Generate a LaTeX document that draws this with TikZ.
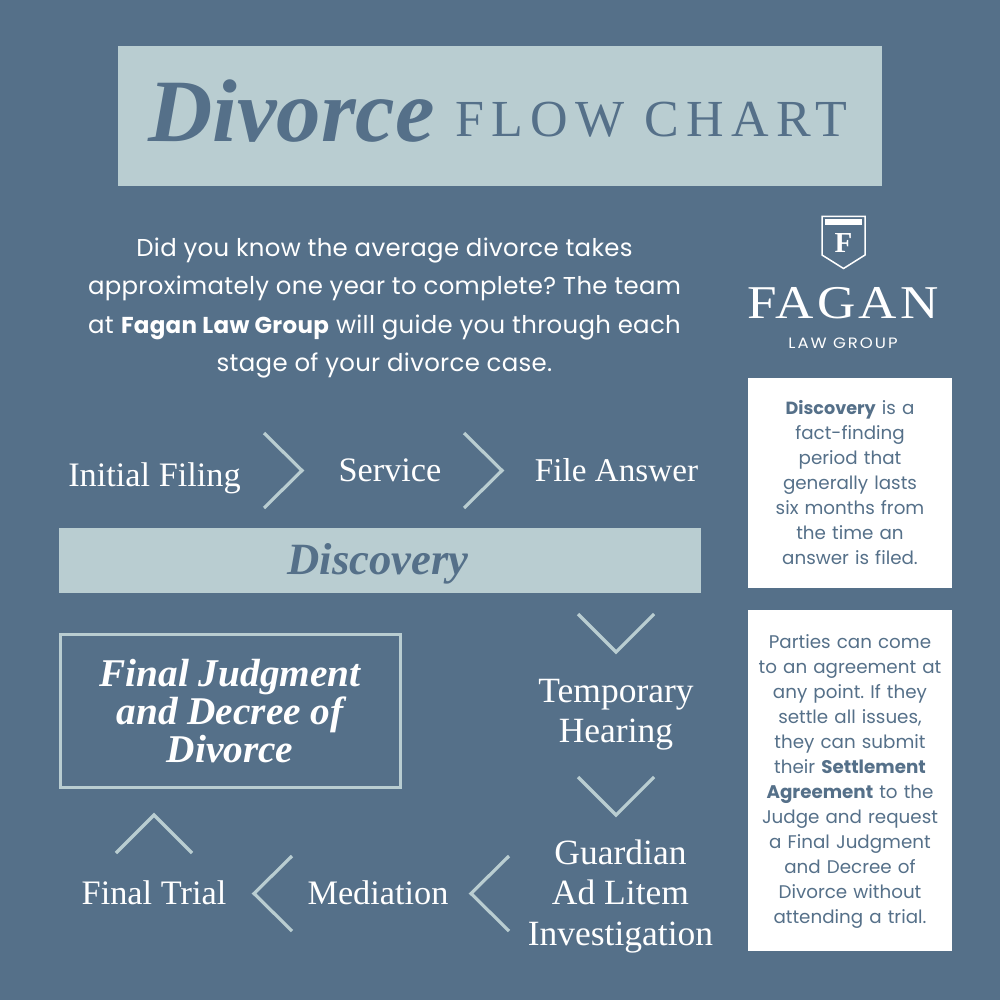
\documentclass[tikz,border=0pt]{standalone}
\usepackage{fontspec}
\setmainfont{Liberation Serif}
\newfontfamily\bodyfont{Poppins}[LetterSpace=1.3]
\newfontfamily\sidefont{Poppins}
\newfontfamily\cursfont{Liberation Serif}
\newfontfamily\flowfont{Liberation Serif}[LetterSpace=14]
\newfontfamily\faganfont{Liberation Serif}[LetterSpace=6]
\newfontfamily\lawfont{Poppins}[LetterSpace=12]
\definecolor{bgblue}{HTML}{557089}
\definecolor{palebar}{HTML}{B9CDD1}
\newcommand{\fs}[2]{\fontsize{#1pt}{#2pt}\selectfont}
\tikzset{
  x=1pt,y=-1pt,
  chev/.style={draw=palebar,line width=3.2pt,line cap=butt,line join=miter},
  steplabel/.style={text=white,align=center,inner sep=0pt,font=\rmfamily\fs{34.3}{40.5}},
  widelabel/.style={steplabel,font=\rmfamily\fs{35.5}{40.5}},
  intro/.style={text=white,align=center,inner sep=0pt,font=\bodyfont\fs{24.4}{38.3}},
  sidebox/.style={inner sep=0pt,align=center,text=bgblue,font=\sidefont\fs{18.3}{25},text width=190pt},
}
\begin{document}
\frenchspacing
\begin{tikzpicture}
\useasboundingbox (0,0) rectangle (1000,1000);
\fill[bgblue] (0,0) rectangle (1000,1000);
% title
\fill[palebar] (118,46) rectangle (882,186);
\node[inner sep=0pt,text=bgblue,font=\cursfont\bfseries\itshape\fs{89}{89},anchor=base west] (divorce) at (148,142) {Divorce};
\node[text=bgblue,inner sep=0pt,font=\flowfont\fs{52}{52},anchor=base west] (flow) at (455,137) {FLOW CHART};
% intro
\node[intro] (introtext) at (384.5,308) {Did you know the average divorce takes\\approximately one year to complete? The team\\at {\fs{23}{38.3}\textbf{Fagan Law Group}} will guide you through each\\stage of your divorce case.};
% logo
\draw[white,line width=1.5pt,line join=miter] (822,216.5) -- (865,216.5) -- (865,255) -- (843.5,268.5) -- (822,255) -- cycle;
\fill[white] (825,219) rectangle (862,225);
\node[text=white,inner sep=0pt,font=\rmfamily\bfseries\fs{29}{29}] (logof) at (843.5,243) {F};
\node[text=white,inner sep=0pt,font=\faganfont\fs{47}{47},anchor=base] (fagan) at (843,318) {\scalebox{1.13}[1]{FAGAN}};
\node[text=white,inner sep=0pt,font=\lawfont\fs{15}{15}] (lawgroup) at (843,343) {\scalebox{1.1}[1]{LAW GROUP}};
% side boxes
\fill[white] (748,378) rectangle (952,588);
\node[sidebox] (discoverybox) at (850,483) {{\fs{17.6}{25}\textbf{Discovery}} is a\\fact-finding\\period that\\generally lasts\\six months from\\the time an\\answer is filed.};
\fill[white] (748,610) rectangle (952,951);
\node[sidebox] (settlebox) at (850,781.5) {Parties can come\\to an agreement at\\any point. If they\\settle all issues,\\they can submit\\their \textbf{Settlement}\\\textbf{Agreement} to the\\Judge and request\\a Final Judgment\\and Decree of\\Divorce without\\attending a trial.};
% steps
\node[steplabel] (initial) at (154.5,478) {Initial Filing};
\node[steplabel] (service) at (390,470) {Service};
\node[steplabel,font=\rmfamily\fs{33.2}{40}] (answer) at (616.5,470) {File Answer};
\fill[palebar] (59,528) rectangle (701,593);
\node[inner sep=0pt,text=bgblue,font=\cursfont\bfseries\itshape\fs{44.7}{44.7}] (discovery) at (378,564) {Discovery};
\node[widelabel] (temporary) at (616,714.5) {Temporary\\Hearing};
\node[widelabel] (guardian) at (620.5,896.5) {Guardian\\Ad Litem\\Investigation};
\node[steplabel] (mediation) at (378,893) {Mediation};
\node[steplabel] (trial) at (154,893) {Final Trial};
\draw[palebar,line width=3pt] (60.5,634.5) rectangle (400,787);
\node[inner sep=0pt,align=center,text=white,font=\cursfont\bfseries\itshape\fs{39.3}{38}] (judgment) at (230,711) {Final Judgment\\and Decree of\\Divorce};
% chevrons
\draw[chev] (264,433) -- (302,470.5) -- (264,508);
\draw[chev] (464,433) -- (502,470.5) -- (464,508);
\draw[chev] (578,614) -- (616,652) -- (654,614);
\draw[chev] (578,777) -- (616,815) -- (654,777);
\draw[chev] (509,856) -- (471,893.5) -- (509,931);
\draw[chev] (292,856) -- (254,893.5) -- (292,931);
\draw[chev] (116,853) -- (154,815) -- (192,853);
\end{tikzpicture}
\end{document}
